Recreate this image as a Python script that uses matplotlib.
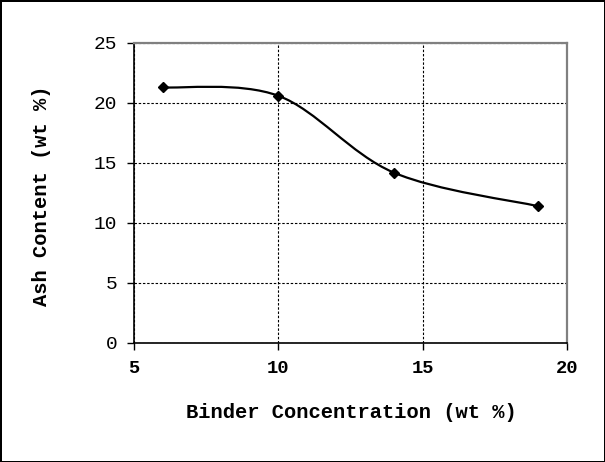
import numpy as np
import matplotlib.pyplot as plt
from matplotlib.path import Path
from matplotlib.patches import PathPatch

# =========================
# data
# =========================
binder_conc = [6, 10, 14, 19]          # wt %
ash_content = [21.3, 20.6, 14.2, 11.4]  # wt %

x_ticks = [5, 10, 15, 20]
y_ticks = [0, 5, 10, 15, 20, 25]

plt.rcParams["font.family"] = ["Liberation Mono", "DejaVu Sans Mono"]


def excel_smooth_path(xs, ys):
    # Catmull-Rom style bezier, like Excel's "smoothed line"
    pts = np.column_stack([xs, ys]).astype(float)
    n = len(pts)
    verts = [pts[0]]
    codes = [Path.MOVETO]
    for i in range(n - 1):
        p0 = pts[i - 1] if i > 0 else pts[i]
        p1 = pts[i]
        p2 = pts[i + 1]
        p3 = pts[i + 2] if i + 2 < n else pts[i + 1]
        c1 = p1 + (p2 - p0) / 6.0
        c2 = p2 - (p3 - p1) / 6.0
        verts += [c1, c2, p2]
        codes += [Path.CURVE4] * 3
    return Path(verts, codes)


fig = plt.figure(figsize=(6.05, 4.62), dpi=100)
fig.patch.set_edgecolor("black")
fig.patch.set_linewidth(2)

ax = fig.add_axes([0.2215, 0.2576, 0.7155, 0.6494])

ax.add_patch(PathPatch(excel_smooth_path(binder_conc, ash_content),
                       facecolor="none", edgecolor="black", lw=1.6, zorder=3))
ax.plot(binder_conc, ash_content, linestyle="none", marker="D",
        markersize=5, color="black", zorder=4)

ax.set_xlim(5, 20)
ax.set_ylim(0, 25)
ax.set_xticks(x_ticks)
ax.set_yticks(y_ticks)
ax.grid(True, color="black", linestyle=(0, (2.2, 1.6)), linewidth=0.8)
ax.set_axisbelow(True)

for side in ["top", "right"]:
    ax.spines[side].set_color("#808080")
    ax.spines[side].set_linewidth(1.6)
for side in ["left", "bottom"]:
    ax.spines[side].set_color("black")
    ax.spines[side].set_linewidth(1.2)

ax.tick_params(axis="both", direction="out", length=5, width=1, pad=7)
for lab in ax.get_xticklabels():
    lab.set_fontsize(13.5)
    lab.set_fontweight("bold")
for lab in ax.get_yticklabels():
    lab.set_fontsize(14)

ax.set_xlabel("Binder Concentration (wt %)", fontsize=14.8, fontweight="bold")
ax.set_ylabel("Ash Content (wt %)", fontsize=14.8, fontweight="bold")
ax.xaxis.set_label_coords(0.502, -0.2)
ax.yaxis.set_label_coords(-0.192, 0.49)

fig.savefig("out.png", dpi=100, edgecolor="black")
